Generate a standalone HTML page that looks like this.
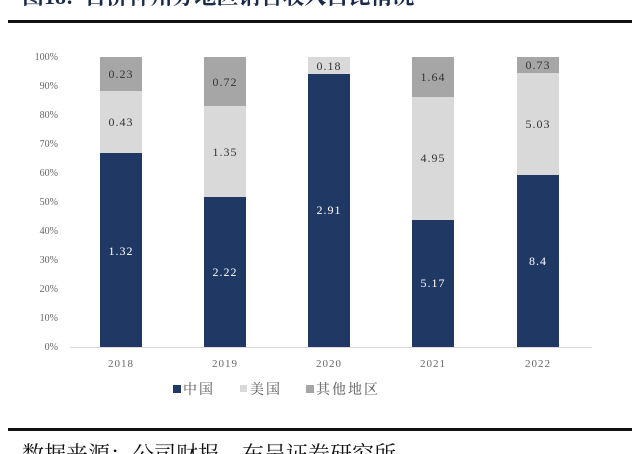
<!DOCTYPE html>
<html><head><meta charset="utf-8"><style>
body{margin:0;width:640px;height:454px;overflow:hidden;background:#fff;}
svg{display:block;font-family:"Liberation Serif","Noto Serif CJK SC",serif;}
</style></head><body>
<svg width="640" height="454" xmlns="http://www.w3.org/2000/svg">
<text x="22" y="4" font-size="22" font-weight="bold" fill="#1a2a4a">图18:&#160; 百济神州分地区销售收入占比情况</text>
<rect x="8" y="20" width="624" height="3" fill="#111"/>
<g font-size="10" fill="#666" text-anchor="end">
<text x="58" y="60">100%</text><text x="58" y="89">90%</text><text x="58" y="118">80%</text><text x="58" y="147">70%</text><text x="58" y="176">60%</text><text x="58" y="205">50%</text><text x="58" y="234">40%</text><text x="58" y="263">30%</text><text x="58" y="292">20%</text><text x="58" y="321">10%</text><text x="58" y="350">0%</text>
</g>
<line x1="70" y1="347.5" x2="592" y2="347.5" stroke="#d9d9d9" stroke-width="1"/>
<g>
<rect x="100" y="57" width="42" height="34" fill="#a6a6a6"/><rect x="100" y="91" width="42" height="62" fill="#d9d9d9"/><rect x="100" y="153" width="42" height="194" fill="#1f3864"/>
<rect x="204" y="57" width="42" height="49" fill="#a6a6a6"/><rect x="204" y="106" width="42" height="91" fill="#d9d9d9"/><rect x="204" y="197" width="42" height="150" fill="#1f3864"/>
<rect x="308" y="57" width="42" height="17" fill="#d9d9d9"/><rect x="308" y="74" width="42" height="273" fill="#1f3864"/>
<rect x="412" y="57" width="42" height="40" fill="#a6a6a6"/><rect x="412" y="97" width="42" height="123" fill="#d9d9d9"/><rect x="412" y="220" width="42" height="127" fill="#1f3864"/>
<rect x="517" y="57" width="42" height="16" fill="#a6a6a6"/><rect x="517" y="73" width="42" height="102" fill="#d9d9d9"/><rect x="517" y="175" width="42" height="172" fill="#1f3864"/>
</g>
<g font-size="12" text-anchor="middle" letter-spacing="1">
<text x="121" y="78" fill="#333">0.23</text><text x="121" y="126" fill="#333">0.43</text><text x="121" y="255" fill="#fff">1.32</text>
<text x="225" y="86" fill="#333">0.72</text><text x="225" y="156" fill="#333">1.35</text><text x="225" y="276" fill="#fff">2.22</text>
<text x="329" y="70" fill="#333">0.18</text><text x="329" y="214" fill="#fff">2.91</text>
<text x="433" y="81" fill="#333">1.64</text><text x="433" y="162" fill="#333">4.95</text><text x="433" y="287" fill="#fff">5.17</text>
<text x="538" y="69" fill="#333">0.73</text><text x="538" y="128" fill="#333">5.03</text><text x="538" y="265" fill="#fff">8.4</text>
</g>
<g font-size="11" fill="#666" text-anchor="middle" letter-spacing="1">
<text x="121" y="367">2018</text><text x="225" y="367">2019</text><text x="329" y="367">2020</text><text x="433" y="367">2021</text><text x="538" y="367">2022</text>
</g>
<g font-size="14" fill="#555" letter-spacing="2">
<rect x="173" y="385" width="8" height="8" fill="#1f3864"/><text x="183" y="394">中国</text>
<rect x="240" y="385" width="7" height="7" fill="#d9d9d9"/><text x="250" y="394">美国</text>
<rect x="306" y="385" width="8" height="8" fill="#a6a6a6"/><text x="316" y="394">其他地区</text>
</g>
<rect x="8" y="428" width="624" height="3" fill="#111"/>
<text x="22" y="462" font-size="22" fill="#111">数据来源：公司财报，东吴证券研究所</text>
</svg>
</body></html>
